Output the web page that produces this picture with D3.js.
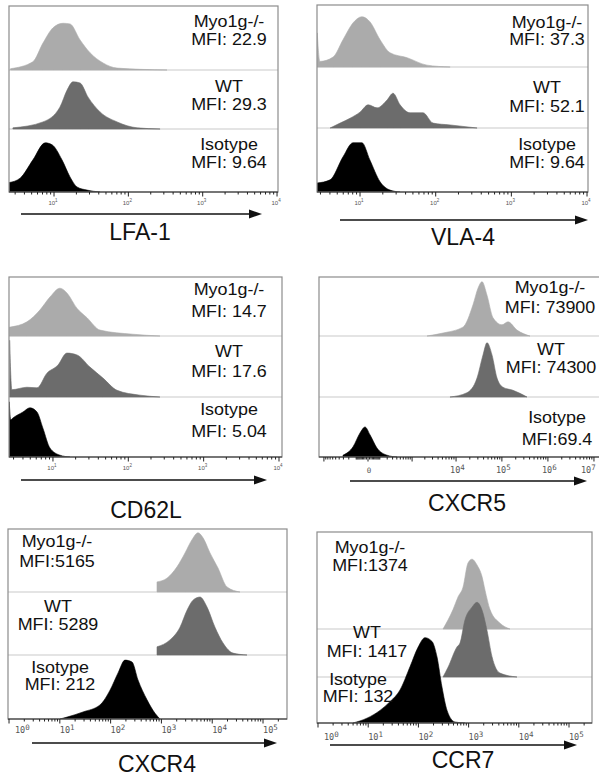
<!DOCTYPE html>
<html>
<head>
<meta charset="utf-8">
<script src="https://cdn.jsdelivr.net/npm/d3@7"></script>
<style>
  body { margin: 0; background: #fff; }
  svg { display: block; }
</style>
</head>
<body>
<svg id="fig" width="599" height="777"></svg>
<script>
// groups and MFI labels
const groups = ["Myo1g-/-", "WT", "Isotype"];
const lfaMfi = ["MFI: 22.9", "MFI: 29.3", "MFI: 9.64"];
const vlaMfi = ["MFI: 37.3", "MFI: 52.1", "MFI: 9.64"];
const cd62Mfi = ["MFI: 14.7", "MFI: 17.6", "MFI: 5.04"];
const cxcr5Mfi = ["MFI: 73900", "MFI: 74300", "MFI:69.4"];
const cxcr4Mfi = ["MFI:5165", "MFI: 5289", "MFI: 212"];
const ccr7Mfi = ["MFI:1374", "MFI: 1417", "MFI: 132"];

// histograms: [fluorescence, % of row height]
const lfaMyo = [[2.6,2],[5.2,13],[7.1,42],[9.7,66],[13.2,73],[16.4,72],[22.4,47],[30.5,27],[45.7,11],[70.5,3],[331,0]];
const lfaWT = [[2.8,2],[7.1,12],[12.0,37],[15.0,66],[18.0,80],[22.4,78],[28.7,54],[41.6,29],[70.5,12],[131,2],[267,0]];
const lfaIso = [[2.5,15],[3.5,22],[5.2,51],[7.6,78],[9.4,75],[12.8,51],[16.4,24],[20.4,8],[27.8,3],[41.6,0]];

const vlaMyo = [[2.72,55],[2.95,9],[4.4,16],[5.96,44],[8.07,71],[10.6,81],[13.5,73],[18.4,44],[24.9,23],[41.8,15],[76.7,3],[155,0]];
const vlaWT = [[4.02,0],[5.45,8],[7.38,16],[10,26],[12.8,38],[16.8,33],[22.8,46],[27.3,57],[33.8,38],[45.8,25],[68.1,25],[92.3,8],[155,5],[352,0]];
const vlaIso = [[2.7,14],[4.02,19],[5.96,55],[8.07,77],[10.6,77],[13.5,50],[18.4,16],[24.9,3],[33.8,0]];

const cd62Myo = [[2.65,15],[4.52,24],[6.71,44],[9.12,66],[12.4,81],[15.3,73],[20.8,47],[28.3,31],[42.1,10],[115,3],[263,0]];
const cd62WT = [[2.66,93],[2.85,12],[4.52,16],[6.14,15],[8.32,39],[11.6,52],[15.3,72],[20.8,69],[31.0,49],[46.1,31],[70.8,11],[143,3],[263,0]];
const cd62Iso = [[2.63,92],[2.75,62],[2.94,65],[4.0,75],[4.95,82],[6.14,75],[7.36,48],[9.12,15],[12.4,3],[16.8,0]];

const cxcr5Myo = [[2245,0],[5146,5],[14210,15],[23510,53],[30220,81],[36940,92],[47470,69],[64110,31],[100610,19],[135860,24],[213160,10],[408330,0]];
const cxcr5WT = [[7355,0],[17380,7],[28740,31],[38840,69],[47470,89],[60970,69],[78380,31],[105780,16],[174460,11],[351540,0]];
const cxcr5Iso = [[-309,3],[-138,17],[-61,40],[-20,50],[13,37],[70,15],[197,3],[405,0]];

const cxcr4Myo = [[819,16],[1288,22],[2028,40],[2917,62],[4000,83],[5250,94],[6590,86],[9050,62],[13000,38],[19540,8],[35240,0]];
const cxcr4WT = [[819,13],[1477,24],[2323,44],[3190,71],[4190,87],[5750,92],[7900,76],[11350,44],[16330,19],[25660,3],[48400,0]];
const cxcr4Iso = [[10.1,0],[13.9,3],[28.6,11],[61.8,22],[97.3,45],[140,72],[192,92],[264,89],[346,61],[521,30],[748,9],[938,0]];

const ccr7Myo = [[309,0],[489,20],[615,33],[773,43],[972,68],[1169,72],[1469,66],[1849,54],[2123,40],[2669,20],[4220,6],[6680,0]];
const ccr7WT = [[309,0],[389,10],[587,31],[674,35],[848,59],[1169,72],[1469,77],[1849,69],[2326,48],[2924,21],[4220,4],[9200,0]];
const ccr7Iso = [[4.98,0],[9.46,5],[17.2,13],[27.2,22],[43.0,34],[68.0,58],[98.2,78],[135,88],[187,84],[235,68],[295,37],[372,13],[536,1],[848,0]];

// tick labels
const decadeTicks = [10, 100, 1000, 10000];
const cxcr5Ticks = [0, 1e4, 1e5, 1e6, 1e7];
const wideTicks = [1, 10, 100, 1000, 10000, 100000];

const fills = ["#ababab", "#6c6c6c", "#000000"];

const panels = [
  { title: "LFA-1", mfi: lfaMfi, series: [lfaMyo, lfaWT, lfaIso],
    x: d3.scaleLog().domain([2.48, 10300]).range([9, 278]),
    top: 6, bottom: 192, seps: [70, 129], base: [70, 129, 192], rowH: [64, 59, 63],
    labX: [229, 229, 229], labY: [[27, 45], [92, 110], [150, 168]],
    ticks: decadeTicks, tickStyle: "small", tickY: 205,
    arrow: [21, 262, 214], titleX: 140, titleY: 240 },
  { title: "VLA-4", mfi: vlaMfi, series: [vlaMyo, vlaWT, vlaIso],
    x: d3.scaleLog().domain([2.70, 10300]).range([317, 588]),
    top: 5, bottom: 192, seps: [67, 128], base: [67, 128, 192], rowH: [62, 61, 64],
    labX: [547, 547, 547], labY: [[28, 45], [93, 112], [150, 168]],
    ticks: decadeTicks, tickStyle: "small", tickY: 205,
    arrow: [340, 588, 220], titleX: 463, titleY: 245 },
  { title: "CD62L", mfi: cd62Mfi, series: [cd62Myo, cd62WT, cd62Iso],
    x: d3.scaleLog().domain([2.61, 10960]).range([9, 282]),
    top: 277, bottom: 457, seps: [336, 397], base: [336, 397, 457], rowH: [59, 61, 60],
    labX: [229, 229, 229], labY: [[295, 317], [357, 377], [415, 437]],
    ticks: decadeTicks, tickStyle: "small", tickY: 470,
    arrow: [21, 267, 480], titleX: 146, titleY: 518 },
  { title: "CXCR5", mfi: cxcr5Mfi, series: [cxcr5Myo, cxcr5WT, cxcr5Iso],
    x: d3.scaleSymlog().constant(124).domain([-1313, 1.495e7]).range([319, 602]),
    top: 277, bottom: 457, seps: [336, 397], base: [336, 397, 457], rowH: [59, 61, 60],
    labX: [550, 551, 557], labY: [[293, 313], [355, 373], [423, 445]],
    ticks: cxcr5Ticks, tickStyle: "symlog", tickY: 473,
    arrow: [350, 587, 481], titleX: 467, titleY: 511 },
  { title: "CXCR4", mfi: cxcr4Mfi, series: [cxcr4Myo, cxcr4WT, cxcr4Iso],
    x: d3.scaleLog().domain([0.955, 296500]).range([8, 287]),
    top: 529, bottom: 719, seps: [592, 655], base: [592, 655, 719], rowH: [63, 63, 64],
    labX: [57, 58, 60], labY: [[547, 567], [612, 630], [673, 690]],
    ticks: wideTicks, tickStyle: "mono", tickY: 733,
    arrow: [32, 277, 743], titleX: 157, titleY: 772 },
  { title: "CCR7", mfi: ccr7Mfi, series: [ccr7Myo, ccr7WT, ccr7Iso],
    x: d3.scaleLog().domain([0.955, 287000]).range([317, 592]),
    top: 532, bottom: 723, seps: [629, 677], base: [629, 677, 723], rowH: [97, 97, 97],
    labX: [370, 367, 358], labY: [[553, 571], [638, 657], [685, 702]],
    ticks: wideTicks, tickStyle: "mono", tickY: 740,
    arrow: [330, 577, 745], titleX: 463, titleY: 768 }
];

const svg = d3.select("#fig");
const defs = svg.append("defs");

function isDecade(v) {
  if (v <= 0) return false;
  const l = Math.log10(v);
  return Math.abs(l - Math.round(l)) < 1e-9;
}

function cxcr5MinorTicks() {
  const out = [0];
  [10, 100].forEach(d => {
    for (let m = 1; m <= 9; m++) { out.push(m * d); out.push(-m * d); }
  });
  out.push(-1000);
  for (let d = 1000; d <= 1e6; d *= 10) {
    for (let m = 1; m <= 9; m++) out.push(m * d);
  }
  out.push(1e7);
  return out;
}

panels.forEach((p, pi) => {
  const g = svg.append("g");
  const [x0, x1] = p.x.range();
  const clipId = "clip" + pi;
  defs.append("clipPath").attr("id", clipId)
    .append("rect").attr("x", x0).attr("y", p.top)
    .attr("width", x1 - x0).attr("height", p.bottom - p.top);

  // row separators
  g.selectAll(".sep").data(p.seps).enter().append("line")
    .attr("x1", x0).attr("x2", x1)
    .attr("y1", d => d).attr("y2", d => d)
    .attr("stroke", "#c9c9c9").attr("stroke-width", 1.2);

  // histograms
  const hg = g.append("g").attr("clip-path", `url(#${clipId})`);
  p.series.forEach((s, i) => {
    const y = d3.scaleLinear().domain([0, 100]).range([p.base[i], p.base[i] - p.rowH[i]]);
    const area = d3.area()
      .x(d => p.x(d[0]))
      .y0(p.base[i])
      .y1(d => y(d[1]))
      .curve(d3.curveMonotoneX);
    hg.append("path").datum(s)
      .attr("d", area)
      .attr("fill", fills[i])
      .attr("stroke", fills[i])
      .attr("stroke-width", 0.6);
  });

  // frame
  g.append("rect")
    .attr("x", x0).attr("y", p.top)
    .attr("width", x1 - x0).attr("height", p.bottom - p.top)
    .attr("fill", "none").attr("stroke", "#8c8c8c").attr("stroke-width", 1.2);
  g.append("line")
    .attr("x1", x0).attr("x2", x1)
    .attr("y1", p.bottom).attr("y2", p.bottom)
    .attr("stroke", "#333").attr("stroke-width", 1.2);

  // tick marks
  let tickVals;
  let major;
  if (p.tickStyle === "symlog") {
    tickVals = cxcr5MinorTicks();
    major = v => v === 0 || Math.abs(v) === 1000 || (v > 1000 && isDecade(v));
  } else {
    tickVals = p.x.ticks();
    major = isDecade;
  }
  tickVals = tickVals.filter(v => p.x(v) >= x0 - 0.5 && p.x(v) <= x1 + 0.5);
  g.selectAll(".tick").data(tickVals).enter().append("line")
    .attr("x1", d => p.x(d)).attr("x2", d => p.x(d))
    .attr("y1", p.bottom).attr("y2", d => p.bottom + (major(d) ? 4.5 : 2.5))
    .attr("stroke", "#222").attr("stroke-width", 1);

  // tick labels
  p.ticks.forEach(v => {
    const t = g.append("text").attr("y", p.tickY).attr("fill", "#555");
    if (p.tickStyle === "small") {
      t.attr("x", p.x(v) - 1).attr("text-anchor", "middle")
        .attr("font-family", "Liberation Sans, Arial, sans-serif").attr("font-size", 6);
      t.append("tspan").text("10");
      t.append("tspan").attr("dy", -3).attr("font-size", 4.5).text(Math.round(Math.log10(v)));
    } else {
      t.attr("font-family", "DejaVu Sans Mono, monospace").attr("font-size", 8.5);
      if (v === 0) {
        t.attr("x", p.x(0) + 1).attr("text-anchor", "middle").attr("font-size", 7.5).text("0");
      } else {
        let lx = p.tickStyle === "symlog" ? Math.min(p.x(v) - 6, 581) : Math.max(p.x(v), x0 + 7);
        t.attr("x", lx).attr("text-anchor", "start");
        t.append("tspan").text("10");
        t.append("tspan").attr("dy", -3.5).attr("font-size", 7.5).text(Math.round(Math.log10(v)));
      }
    }
  });

  // group labels (slightly widened like the source figure)
  groups.forEach((name, i) => {
    const txt = g.append("g")
      .attr("font-family", "Liberation Sans, Arial, sans-serif")
      .attr("font-size", 16).attr("fill", "#111").attr("text-anchor", "middle");
    txt.append("text")
      .attr("transform", `translate(${p.labX[i]},${p.labY[i][0]}) scale(1.12,1)`)
      .text(name);
    txt.append("text")
      .attr("transform", `translate(${p.labX[i]},${p.labY[i][1]}) scale(1.12,1)`)
      .text(p.mfi[i]);
  });

  // arrow under the axis
  const [ax1, ax2, ay] = p.arrow;
  g.append("line")
    .attr("x1", ax1).attr("x2", ax2 - 8)
    .attr("y1", ay).attr("y2", ay)
    .attr("stroke", "#111").attr("stroke-width", 1.6);
  g.append("path")
    .attr("d", `M${ax2 - 13},${ay - 4.5}L${ax2},${ay}L${ax2 - 13},${ay + 4.5}Z`)
    .attr("fill", "#111");

  // marker name
  g.append("text")
    .attr("x", p.titleX).attr("y", p.titleY)
    .attr("text-anchor", "middle")
    .attr("font-family", "Liberation Sans, Arial, sans-serif")
    .attr("font-size", 23).attr("fill", "#111")
    .text(p.title);
});
</script>
</body>
</html>
